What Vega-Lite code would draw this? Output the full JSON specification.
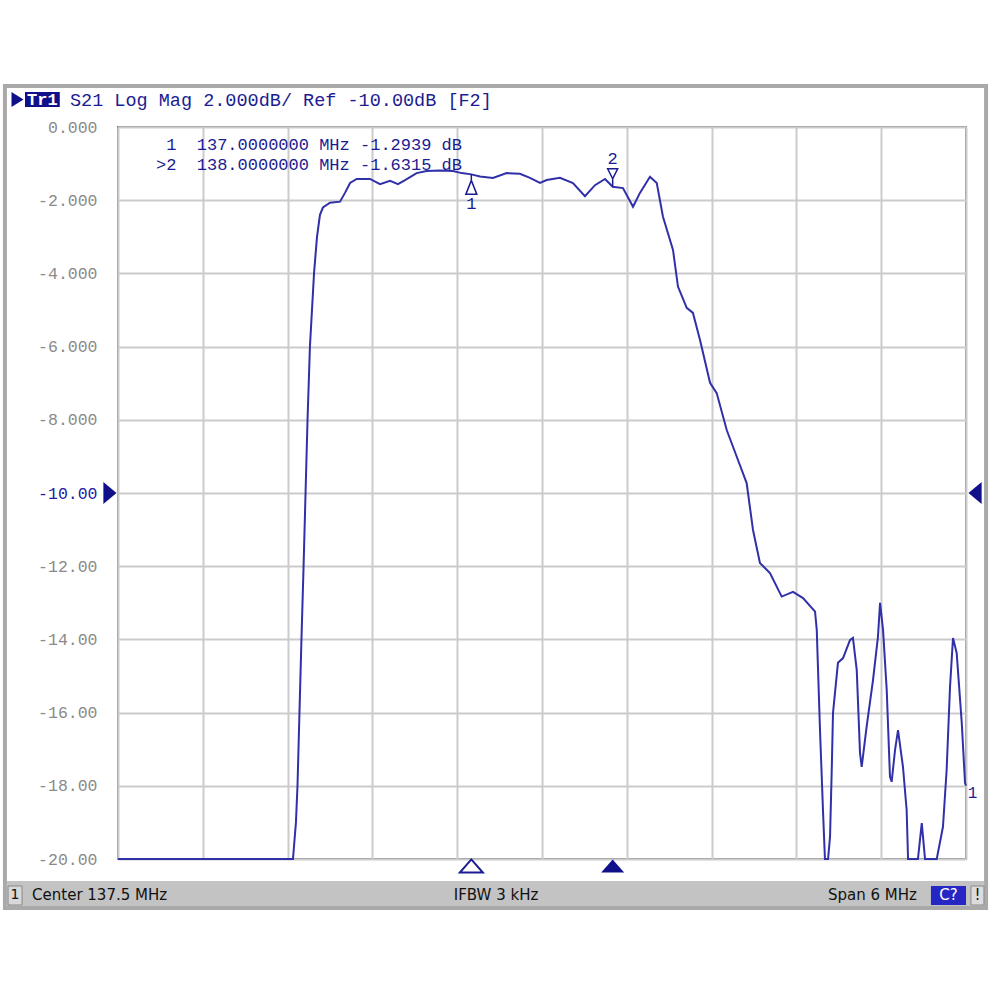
{
  "$schema": "https://vega.github.io/schema/vega-lite/v6.json",
  "width": 848,
  "height": 732,
  "autosize": {"type": "none"},
  "padding": {"left": 118, "top": 127, "right": 24, "bottom": 131},
  "background": "white",
  "config": {"view": {"stroke": "#8c8c8c", "strokeWidth": 2}},
  "datasets": {
    "trace": [
      {"f": 134.5, "db": -20}, {"f": 135.738, "db": -20}, {"f": 135.759, "db": -19.0}, {"f": 135.770, "db": -18.0},
      {"f": 135.784, "db": -16.0}, {"f": 135.798, "db": -14.0}, {"f": 135.813, "db": -12.0}, {"f": 135.827, "db": -10.0},
      {"f": 135.841, "db": -8.0}, {"f": 135.858, "db": -6.0}, {"f": 135.887, "db": -4.0}, {"f": 135.908, "db": -3.0},
      {"f": 135.929, "db": -2.4}, {"f": 135.950, "db": -2.2}, {"f": 136.000, "db": -2.07}, {"f": 136.071, "db": -2.04},
      {"f": 136.106, "db": -1.80}, {"f": 136.142, "db": -1.53}, {"f": 136.189, "db": -1.42}, {"f": 136.283, "db": -1.42},
      {"f": 136.354, "db": -1.56}, {"f": 136.425, "db": -1.47}, {"f": 136.481, "db": -1.56}, {"f": 136.531, "db": -1.45},
      {"f": 136.613, "db": -1.26}, {"f": 136.684, "db": -1.20}, {"f": 136.778, "db": -1.19}, {"f": 136.870, "db": -1.20},
      {"f": 136.932, "db": -1.26}, {"f": 137.000, "db": -1.294}, {"f": 137.061, "db": -1.35}, {"f": 137.153, "db": -1.39},
      {"f": 137.250, "db": -1.26}, {"f": 137.344, "db": -1.28}, {"f": 137.415, "db": -1.39}, {"f": 137.486, "db": -1.53},
      {"f": 137.533, "db": -1.45}, {"f": 137.627, "db": -1.39}, {"f": 137.719, "db": -1.53}, {"f": 137.804, "db": -1.89},
      {"f": 137.875, "db": -1.59}, {"f": 137.946, "db": -1.42}, {"f": 138.000, "db": -1.632}, {"f": 138.073, "db": -1.67},
      {"f": 138.144, "db": -2.18}, {"f": 138.193, "db": -1.80}, {"f": 138.264, "db": -1.36}, {"f": 138.312, "db": -1.53},
      {"f": 138.356, "db": -2.45}, {"f": 138.427, "db": -3.36}, {"f": 138.462, "db": -4.36}, {"f": 138.524, "db": -4.94},
      {"f": 138.568, "db": -5.08}, {"f": 138.618, "db": -5.82}, {"f": 138.689, "db": -6.99}, {"f": 138.736, "db": -7.27},
      {"f": 138.807, "db": -8.28}, {"f": 138.878, "db": -9.01}, {"f": 138.948, "db": -9.73}, {"f": 138.993, "db": -11.01},
      {"f": 139.042, "db": -11.91}, {"f": 139.113, "db": -12.19}, {"f": 139.196, "db": -12.83}, {"f": 139.276, "db": -12.70},
      {"f": 139.347, "db": -12.87}, {"f": 139.432, "db": -13.24}, {"f": 139.444, "db": -13.74}, {"f": 139.467, "db": -16.48},
      {"f": 139.488, "db": -18.66}, {"f": 139.502, "db": -20.0}, {"f": 139.524, "db": -20.0}, {"f": 139.538, "db": -19.39},
      {"f": 139.550, "db": -17.57}, {"f": 139.559, "db": -16.01}, {"f": 139.594, "db": -14.64}, {"f": 139.630, "db": -14.51},
      {"f": 139.679, "db": -14.02}, {"f": 139.700, "db": -13.96}, {"f": 139.727, "db": -14.84}, {"f": 139.750, "db": -17.10},
      {"f": 139.762, "db": -17.48}, {"f": 139.797, "db": -16.38}, {"f": 139.842, "db": -15.11}, {"f": 139.877, "db": -13.93},
      {"f": 139.892, "db": -13.00}, {"f": 139.913, "db": -13.74}, {"f": 139.939, "db": -15.38}, {"f": 139.962, "db": -17.75},
      {"f": 139.974, "db": -17.89}, {"f": 139.998, "db": -17.02}, {"f": 140.019, "db": -16.48}, {"f": 140.054, "db": -17.48},
      {"f": 140.080, "db": -18.66}, {"f": 140.090, "db": -20.0}, {"f": 140.160, "db": -20.0}, {"f": 140.187, "db": -19.02},
      {"f": 140.210, "db": -20.0}, {"f": 140.293, "db": -20.0}, {"f": 140.337, "db": -19.12}, {"f": 140.363, "db": -17.57},
      {"f": 140.387, "db": -15.29}, {"f": 140.408, "db": -13.96}, {"f": 140.434, "db": -14.37}, {"f": 140.470, "db": -16.28},
      {"f": 140.493, "db": -17.92}, {"f": 140.5, "db": -18.0}
    ],
    "markers": [
      {"m": "1", "f": 137.0, "db": -1.2939},
      {"m": "2", "f": 138.0, "db": -1.6315}
    ],
    "one": [{}]
  },
  "layer": [
    {
      "data": {"name": "trace"},
      "mark": {"type": "line", "color": "#3030a8", "strokeWidth": 2, "interpolate": "linear"},
      "encoding": {
        "x": {
          "field": "f", "type": "quantitative",
          "scale": {"domain": [134.5, 140.5], "nice": false, "zero": false},
          "axis": {
            "title": null, "labels": false, "ticks": false, "domain": false,
            "grid": true, "gridColor": "#cbcbcb", "gridWidth": 2,
            "values": [134.5, 135.1, 135.7, 136.3, 136.9, 137.5, 138.1, 138.7, 139.3, 139.9, 140.5]
          }
        },
        "y": {
          "field": "db", "type": "quantitative",
          "scale": {"domain": [-20, 0], "nice": false, "zero": false},
          "axis": {
            "title": null, "ticks": false, "domain": false,
            "grid": true, "gridColor": "#cbcbcb", "gridWidth": 2,
            "values": [0, -2, -4, -6, -8, -10, -12, -14, -16, -18, -20],
            "labelExpr": "replace(datum.value === 0 ? '0.000' : (abs(datum.value) >= 10 ? format(datum.value, '.2f') : format(datum.value, '.3f')), '\u2212', '-')",
            "labelFont": "Liberation Mono", "labelFontSize": 16.5, "labelPadding": 21,
            "labelColor": {"condition": {"test": "datum.value === -10", "value": "#2020a0"}, "value": "#8a8a8a"}
          }
        }
      }
    },
    {
      "data": {"name": "one"},
      "mark": {"type": "rect", "filled": false, "stroke": "#a9a9a9", "strokeWidth": 4},
      "encoding": {"x": {"datum": 133.700}, "x2": {"datum": 140.642}, "y": {"datum": 1.12}, "y2": {"datum": -21.339}}
    },
    {
      "data": {"name": "one"},
      "mark": {"type": "rect", "fill": "#c3c3c3"},
      "encoding": {"x": {"datum": 133.714}, "x2": {"datum": 140.627}, "y": {"datum": -20.601}, "y2": {"datum": -21.284}}
    },
    {
      "data": {"name": "one"},
      "mark": {"type": "rect", "fill": "#d8d8d8", "stroke": "#8a8a8a", "strokeWidth": 1},
      "encoding": {"x": {"datum": 133.722}, "x2": {"datum": 133.821}, "y": {"datum": -20.738}, "y2": {"datum": -21.257}}
    },
    {
      "data": {"name": "one"},
      "mark": {"type": "rect", "fill": "#2626c4"},
      "encoding": {"x": {"datum": 140.252}, "x2": {"datum": 140.500}, "y": {"datum": -20.738}, "y2": {"datum": -21.257}}
    },
    {
      "data": {"name": "one"},
      "mark": {"type": "rect", "fill": "#dcdcdc", "stroke": "#8a8a8a", "strokeWidth": 1},
      "encoding": {"x": {"datum": 140.535}, "x2": {"datum": 140.627}, "y": {"datum": -20.738}, "y2": {"datum": -21.257}}
    },
    {
      "data": {"name": "one"},
      "mark": {"type": "text", "text": "1", "font": "DejaVu Sans", "fontSize": 14, "color": "#111111", "align": "center", "baseline": "middle"},
      "encoding": {"x": {"datum": 133.771}, "y": {"datum": -20.984}}
    },
    {
      "data": {"name": "one"},
      "mark": {"type": "text", "text": "Center 137.5 MHz", "font": "DejaVu Sans", "fontSize": 15, "color": "#111111", "align": "left", "baseline": "middle"},
      "encoding": {"x": {"datum": 133.892}, "y": {"datum": -20.984}}
    },
    {
      "data": {"name": "one"},
      "mark": {"type": "text", "text": "IFBW 3 kHz", "font": "DejaVu Sans", "fontSize": 15, "color": "#111111", "align": "center", "baseline": "middle"},
      "encoding": {"x": {"datum": 137.175}, "y": {"datum": -20.984}}
    },
    {
      "data": {"name": "one"},
      "mark": {"type": "text", "text": "Span 6 MHz", "font": "DejaVu Sans", "fontSize": 15, "color": "#111111", "align": "right", "baseline": "middle"},
      "encoding": {"x": {"datum": 140.153}, "y": {"datum": -20.984}}
    },
    {
      "data": {"name": "one"},
      "mark": {"type": "text", "text": "C?", "font": "DejaVu Sans", "fontSize": 15, "color": "white", "align": "center", "baseline": "middle"},
      "encoding": {"x": {"datum": 140.376}, "y": {"datum": -20.984}}
    },
    {
      "data": {"name": "one"},
      "mark": {"type": "text", "text": "!", "font": "DejaVu Sans", "fontSize": 15, "color": "#111111", "align": "center", "baseline": "middle"},
      "encoding": {"x": {"datum": 140.581}, "y": {"datum": -20.984}}
    },
    {
      "data": {"name": "one"},
      "mark": {"type": "point", "shape": "M-0.8,-1L0.8,0L-0.8,1Z", "size": 225, "filled": true, "color": "#10108a", "opacity": 1},
      "encoding": {"x": {"datum": 133.789}, "y": {"datum": 0.751}}
    },
    {
      "data": {"name": "one"},
      "mark": {"type": "rect", "fill": "#10108a"},
      "encoding": {"x": {"datum": 133.842}, "x2": {"datum": 134.088}, "y": {"datum": 0.956}, "y2": {"datum": 0.546}}
    },
    {
      "data": {"name": "one"},
      "mark": {"type": "text", "text": "Tr1", "font": "Liberation Mono", "fontSize": 17, "fontWeight": "bold", "color": "white", "align": "center", "baseline": "middle"},
      "encoding": {"x": {"datum": 133.965}, "y": {"datum": 0.751}}
    },
    {
      "data": {"name": "one"},
      "mark": {"type": "text", "text": "S21 Log Mag 2.000dB/ Ref -10.00dB [F2]", "font": "Liberation Mono", "fontSize": 18.5, "color": "#1c1c92", "align": "left", "baseline": "middle"},
      "encoding": {"x": {"datum": 134.160}, "y": {"datum": 0.751}}
    },
    {
      "data": {"name": "one"},
      "mark": {"type": "text", "text": "1\u00a0\u00a0137.0000000 MHz -1.2939 dB", "font": "Liberation Mono", "fontSize": 17, "color": "#1c1c92", "align": "right", "baseline": "middle"},
      "encoding": {"x": {"datum": 136.934}, "y": {"datum": -0.492}}
    },
    {
      "data": {"name": "one"},
      "mark": {"type": "text", "text": ">2\u00a0\u00a0138.0000000 MHz -1.6315 dB", "font": "Liberation Mono", "fontSize": 17, "color": "#1c1c92", "align": "right", "baseline": "middle"},
      "encoding": {"x": {"datum": 136.934}, "y": {"datum": -1.038}}
    },
    {
      "data": {"name": "markers"},
      "transform": [{"filter": "datum.m === '1'"}],
      "mark": {"type": "point", "shape": "M0,0L0,1.2M0,1.2L-1.1,4L1.1,4Z", "size": 100, "filled": false, "stroke": "#1c1c92", "strokeWidth": 1.5, "opacity": 1},
      "encoding": {"x": {"field": "f", "type": "quantitative"}, "y": {"field": "db", "type": "quantitative"}}
    },
    {
      "data": {"name": "markers"},
      "transform": [{"filter": "datum.m === '2'"}],
      "mark": {"type": "point", "shape": "M0,0L0,-1.6M0,-1.6L-1,-3.6L1,-3.6Z", "size": 100, "filled": false, "stroke": "#1c1c92", "strokeWidth": 1.5, "opacity": 1},
      "encoding": {"x": {"field": "f", "type": "quantitative"}, "y": {"field": "db", "type": "quantitative"}}
    },
    {
      "data": {"name": "markers"},
      "transform": [{"filter": "datum.m === '1'"}],
      "mark": {"type": "text", "font": "Liberation Mono", "fontSize": 17, "color": "#1c1c92", "align": "center", "baseline": "middle", "dy": 30},
      "encoding": {"x": {"field": "f", "type": "quantitative"}, "y": {"field": "db", "type": "quantitative"}, "text": {"field": "m"}}
    },
    {
      "data": {"name": "markers"},
      "transform": [{"filter": "datum.m === '2'"}],
      "mark": {"type": "text", "font": "Liberation Mono", "fontSize": 17, "color": "#1c1c92", "align": "center", "baseline": "middle", "dy": -28},
      "encoding": {"x": {"field": "f", "type": "quantitative"}, "y": {"field": "db", "type": "quantitative"}, "text": {"field": "m"}}
    },
    {
      "data": {"name": "markers"},
      "transform": [{"filter": "datum.m === '1'"}],
      "mark": {"type": "point", "shape": "M-1,0.57L1,0.57L0,-0.57Z", "size": 529, "filled": true, "fill": "white", "stroke": "#1c1c92", "strokeWidth": 2, "opacity": 1},
      "encoding": {"x": {"field": "f", "type": "quantitative"}, "y": {"datum": -20.19}}
    },
    {
      "data": {"name": "markers"},
      "transform": [{"filter": "datum.m === '2'"}],
      "mark": {"type": "point", "shape": "M-1,0.57L1,0.57L0,-0.57Z", "size": 529, "filled": true, "color": "#10108a", "opacity": 1},
      "encoding": {"x": {"field": "f", "type": "quantitative"}, "y": {"datum": -20.19}}
    },
    {
      "data": {"name": "one"},
      "mark": {"type": "point", "shape": "M-0.6,-1L0.6,0L-0.6,1Z", "size": 484, "filled": true, "color": "#10108a", "opacity": 1},
      "encoding": {"x": {"datum": 134.443}, "y": {"datum": -10}}
    },
    {
      "data": {"name": "one"},
      "mark": {"type": "point", "shape": "M0.6,-1L-0.6,0L0.6,1Z", "size": 484, "filled": true, "color": "#10108a", "opacity": 1},
      "encoding": {"x": {"datum": 140.564}, "y": {"datum": -10}}
    },
    {
      "data": {"name": "one"},
      "mark": {"type": "text", "text": "1", "font": "Liberation Mono", "fontSize": 16, "color": "#1c1c92", "align": "left", "baseline": "middle"},
      "encoding": {"x": {"datum": 140.512}, "y": {"datum": -18.2}}
    }
  ]
}
